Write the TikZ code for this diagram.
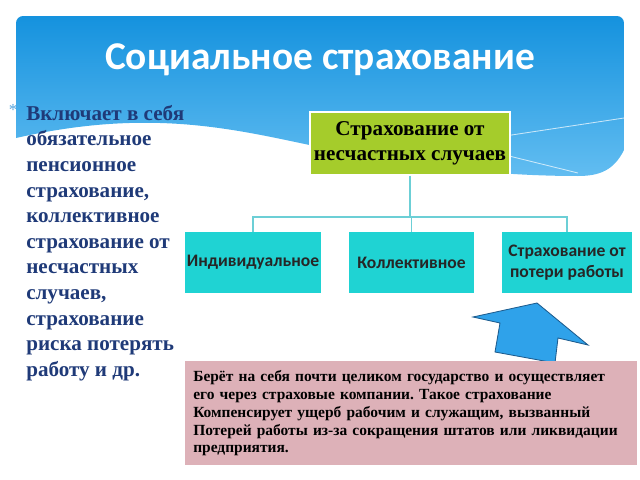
\documentclass[tikz,border=0pt]{standalone}
\usepackage{fontspec}
\setmainfont{Liberation Serif}
\newfontfamily\calib{Carlito}
\usetikzlibrary{calc}
\frenchspacing

\definecolor{bannertop}{HTML}{1592DE}
\definecolor{bannerbot}{HTML}{62BDF1}
\definecolor{textblue}{HTML}{1F3A78}
\definecolor{leafgreen}{HTML}{A5CC2B}
\definecolor{aqua}{HTML}{1FD3D3}
\definecolor{linkcol}{HTML}{6CCFD6}
\definecolor{rose}{HTML}{DDB1B8}
\definecolor{arrowfill}{HTML}{2FA2EA}
\definecolor{arrowline}{HTML}{1E5C8E}

\begin{document}
\begin{tikzpicture}[x=0.025cm, y=-0.025cm,
  rootbox/.style={fill=leafgreen, draw=white, line width=0.8pt, minimum width=5cm,
    minimum height=1.575cm, align=center, inner sep=0pt,
    font=\fontsize{15}{17.8}\selectfont\bfseries},
  kindbox/.style={fill=aqua, minimum height=1.525cm, align=center, inner sep=0pt,
    text=black!85, font=\calib\fontsize{12.5}{15}\selectfont\bfseries},
  link/.style={draw=linkcol, line width=0.8pt}]
\useasboundingbox (0,0) rectangle (640,480);

% banner with wavy bottom
\shade[top color=bannertop, bottom color=bannerbot, rounded corners=5pt]
  (16,138) -- (16,16) -- (624,16) -- (624,80) [sharp corners] -- (624,150)
  .. controls (614,170) and (600,176) .. (578,176)
  .. controls (480,176) and (390,162) .. (300,143)
  .. controls (220,126) and (140,110) .. (16,138) -- cycle;
\draw[white, opacity=0.7, line width=0.6pt] (505,136) -- (624,118);
\draw[white, opacity=0.7, line width=0.6pt] (505,155) -- (578,173);
\node[text=white, font=\calib\fontsize{28}{32}\selectfont\bfseries] (title) at (320,60) {Социальное страхование};

% left column
\node[text=linkcol!80!blue, font=\large] (star) at (13,110) {*};
\node[anchor=north west, align=left, text=textblue, inner sep=0pt,
  font=\fontsize{15}{18.2}\selectfont\bfseries] (intro) at (26,105)
  {Включает в себя\\обязательное\\пенсионное\\страхование,\\коллективное\\страхование от\\несчастных\\случаев,\\страхование\\риска потерять\\работу и др.};

% tree
\node[rootbox] (root) at (410,143.5) {Страхование от\\несчастных случаев};
\node[kindbox, minimum width=3.4cm] (indiv) at (253,262.5) {Индивидуальное};
\node[kindbox, minimum width=3.125cm] (coll) at (411.5,262.5) {Коллективное};
\node[kindbox, minimum width=3.25cm] (loss) at (567,262.5) {Страхование от\\потери работы};

\coordinate (bus) at (410,217);
\draw[link] (root.south) -- (bus);
\draw[link] (bus) -| (indiv.north);
\draw[link] (bus) -| (coll.north);
\draw[link] (bus) -| (loss.north);

% block arrow
\draw[fill=arrowfill, draw=arrowline, line width=0.6pt]
  (537,303) -- (473,317) -- (500,323) -- (495,352) -- (555,363) -- (558,338) -- (588,345) -- cycle;

% note
\node[fill=rose, anchor=north west, minimum width=11.3cm, minimum height=2.6cm,
  text width=10.9cm, align=left, inner xsep=0.1cm, inner ysep=0.12cm,
  font=\fontsize{11}{12.7}\selectfont\bfseries] (note) at (185,361)
  {Берёт на себя почти целиком государство и осуществляет\\его через страховые компании. Такое страхование\\Компенсирует ущерб рабочим и служащим, вызванный\\Потерей работы из-за сокращения штатов или ликвидации\\предприятия.};
\end{tikzpicture}
\end{document}
